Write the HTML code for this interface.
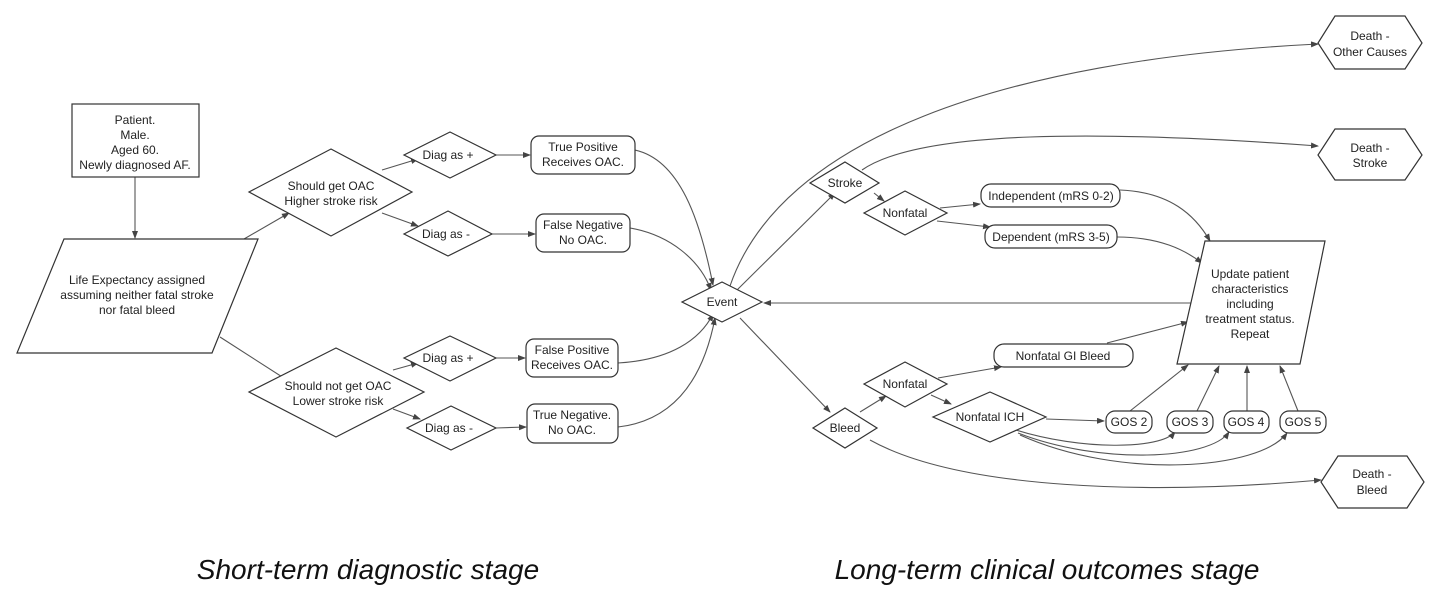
<!DOCTYPE html>
<html><head><meta charset="utf-8"><style>
html,body{margin:0;padding:0;background:#fff}
svg{display:block}
text{font-family:"Liberation Sans",sans-serif;font-size:12px;fill:#222;text-anchor:middle}
.s{fill:#fff;stroke:#333;stroke-width:1.2}
.l{fill:none;stroke:#555;stroke-width:1.1;marker-end:url(#a)}
.cap{font-size:28px;font-style:italic;fill:#111}
</style></head><body>
<svg width="1453" height="608" viewBox="0 0 1453 608">
<defs><marker id="a" markerWidth="8" markerHeight="8" refX="7" refY="3" orient="auto" markerUnits="userSpaceOnUse"><path d="M0,0 L8,3 L0,6 z" fill="#444"/></marker></defs>

<path class="l" d="M135,177 L135,238"/>
<path class="l" d="M244,239 L289,213"/>
<path class="l" d="M220,337 L290,382"/>
<path class="l" d="M382,170 L418,159"/>
<path class="l" d="M382,213 L418,226"/>
<path class="l" d="M496,155 L530,155"/>
<path class="l" d="M492,234 L535,234"/>
<path class="l" d="M393,370 L418,363"/>
<path class="l" d="M393,409 L420,419"/>
<path class="l" d="M496,358 L525,358"/>
<path class="l" d="M496,428 L526,427"/>
<path class="l" d="M635,150 C680,160 700,220 713,285"/>
<path class="l" d="M630,228 C670,235 700,260 711,290"/>
<path class="l" d="M618,363 C670,360 700,340 713,314"/>
<path class="l" d="M618,427 C680,420 705,370 715,318"/>

<path class="l" d="M730,286 C780,140 1000,60 1318,44"/>
<path class="l" d="M862,170 C920,130 1100,130 1318,146"/>
<path class="l" d="M737,290 L835,193"/>
<path class="l" d="M874,193 L884,201"/>
<path class="l" d="M940,208 L980,204"/>
<path class="l" d="M937,221 L990,227"/>
<path class="l" d="M1120,190 C1170,192 1195,215 1210,241"/>
<path class="l" d="M1117,237 C1160,237 1185,250 1202,263"/>
<path class="l" d="M1195,303 L764,303"/>
<path class="l" d="M740,318 L830,412"/>
<path class="l" d="M860,412 L886,396"/>
<path class="l" d="M938,378 L1001,367"/>
<path class="l" d="M931,395 L951,404"/>
<path class="l" d="M1107,343 L1188,322"/>
<path class="l" d="M1046,419 L1104,421"/>
<path class="l" d="M1130,411 L1188,365"/>
<path class="l" d="M1197,411 L1219,366"/>
<path class="l" d="M1247,411 L1247,366"/>
<path class="l" d="M1298,411 L1280,366"/>
<path class="l" d="M1016,430 C1080,450 1160,450 1175,432"/>
<path class="l" d="M1018,433 C1100,465 1210,460 1229,432"/>
<path class="l" d="M1020,435 C1120,480 1260,470 1287,433"/>
<path class="l" d="M870,440 C960,490 1150,495 1321,480"/>

<rect class="s" x="72" y="104" width="127" height="73"/>
<text x="135" y="124">Patient.</text><text x="135" y="139">Male.</text><text x="135" y="154">Aged 60.</text><text x="135" y="169">Newly diagnosed AF.</text>

<polygon class="s" points="64,239 258,239 212,353 17,353"/>
<text x="137" y="284">Life Expectancy assigned</text><text x="137" y="299">assuming neither fatal stroke</text><text x="137" y="314">nor fatal bleed</text>

<polygon class="s" points="331,149 412,192 331,236 249,192"/>
<text x="331" y="190">Should get OAC</text><text x="331" y="205">Higher stroke risk</text>
<polygon class="s" points="336,348 424,392 336,437 249,392"/>
<text x="338" y="390">Should not get OAC</text><text x="338" y="405">Lower stroke risk</text>

<polygon class="s" points="450,132 496,155 450,178 404,155"/><text x="448" y="159">Diag as +</text>
<polygon class="s" points="448,211 492,234 448,256 404,234"/><text x="446" y="238">Diag as -</text>
<polygon class="s" points="450,336 496,358 450,381 404,358"/><text x="448" y="362">Diag as +</text>
<polygon class="s" points="451,406 496,428 451,450 407,428"/><text x="449" y="432">Diag as -</text>

<rect class="s" x="531" y="136" width="104" height="38" rx="8"/><text x="583" y="151">True Positive</text><text x="583" y="166">Receives OAC.</text>
<rect class="s" x="536" y="214" width="94" height="38" rx="8"/><text x="583" y="229">False Negative</text><text x="583" y="244">No OAC.</text>
<rect class="s" x="526" y="339" width="92" height="38" rx="8"/><text x="572" y="354">False Positive</text><text x="572" y="369">Receives OAC.</text>
<rect class="s" x="527" y="404" width="91" height="39" rx="8"/><text x="572" y="419">True Negative.</text><text x="572" y="434">No OAC.</text>

<polygon class="s" points="722,282 762,302 722,322 682,302"/><text x="722" y="306">Event</text>

<polygon class="s" points="845,162 879,183 845,203 810,183"/><text x="845" y="187">Stroke</text>
<polygon class="s" points="905,191 947,213 905,235 864,213"/><text x="905" y="217">Nonfatal</text>
<rect class="s" x="981" y="184" width="139" height="23" rx="10"/><text x="1051" y="200">Independent (mRS 0-2)</text>
<rect class="s" x="985" y="225" width="132" height="23" rx="10"/><text x="1051" y="241">Dependent (mRS 3-5)</text>

<polygon class="s" points="1205,241 1325,241 1300,364 1177,364"/>
<text x="1250" y="278">Update patient</text><text x="1250" y="293">characteristics</text><text x="1250" y="308">including</text><text x="1250" y="323">treatment status.</text><text x="1250" y="338">Repeat</text>

<rect class="s" x="994" y="344" width="139" height="23" rx="10"/><text x="1063" y="360">Nonfatal GI Bleed</text>
<polygon class="s" points="905,362 947,384 905,407 864,384"/><text x="905" y="388">Nonfatal</text>
<polygon class="s" points="845,408 877,428 845,448 813,428"/><text x="845" y="432">Bleed</text>
<polygon class="s" points="990,392 1046,417 990,442 933,417"/><text x="990" y="421">Nonfatal ICH</text>
<rect class="s" x="1106" y="411" width="46" height="22" rx="9"/><text x="1129" y="426">GOS 2</text>
<rect class="s" x="1167" y="411" width="46" height="22" rx="9"/><text x="1190" y="426">GOS 3</text>
<rect class="s" x="1224" y="411" width="45" height="22" rx="9"/><text x="1246" y="426">GOS 4</text>
<rect class="s" x="1280" y="411" width="46" height="22" rx="9"/><text x="1303" y="426">GOS 5</text>

<polygon class="s" points="1335,16 1405,16 1422,43 1405,69 1335,69 1318,43"/><text x="1370" y="40">Death -</text><text x="1370" y="56">Other Causes</text>
<polygon class="s" points="1335,129 1405,129 1422,155 1405,180 1335,180 1318,155"/><text x="1370" y="152">Death -</text><text x="1370" y="167">Stroke</text>
<polygon class="s" points="1338,456 1407,456 1424,482 1407,508 1338,508 1321,482"/><text x="1372" y="478">Death -</text><text x="1372" y="494">Bleed</text>

<text class="cap" x="368" y="579">Short-term diagnostic stage</text>
<text class="cap" x="1047" y="579">Long-term clinical outcomes stage</text>
</svg>
</body></html>
